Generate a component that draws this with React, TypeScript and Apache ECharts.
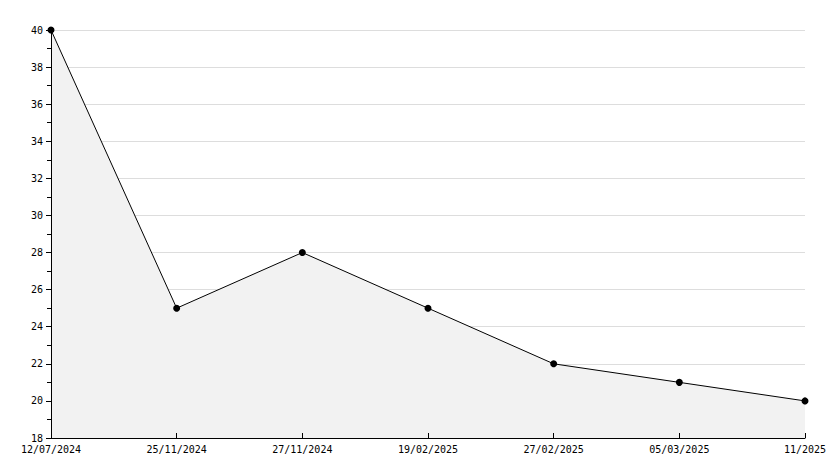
import React, { useEffect, useRef } from "react";
import * as echarts from "echarts";

const categories = ["12/07/2024", "25/11/2024", "27/11/2024", "19/02/2025", "27/02/2025", "05/03/2025", "11/2025"];
const values = [40, 25, 28, 25, 22, 21, 20];
const yMin = 18;
const yMax = 40;
const yInterval = 2;

export default function App() {
  const ref = useRef<HTMLDivElement>(null);
  useEffect(() => {
    document.body.style.margin = "0";
    const chart = echarts.init(ref.current!, null, { renderer: "svg" });
    const font = "DejaVu Sans Mono";
    chart.setOption({
      animation: false,
      backgroundColor: "#ffffff",
      grid: { left: 51, right: 29, top: 30, bottom: 30 },
      xAxis: {
        type: "category",
        data: categories,
        boundaryGap: false,
        z: 10,
        axisLine: { lineStyle: { color: "#000", width: 1 } },
        axisTick: { show: true, inside: true, length: 5, lineStyle: { color: "#000" } },
        axisLabel: { color: "#000", fontFamily: font, fontSize: 10, margin: 6, interval: 0 },
        splitLine: { show: false },
      },
      yAxis: [
        {
          type: "value",
          min: yMin,
          max: yMax,
          interval: yInterval,
          z: 0,
          axisLine: { show: false },
          axisTick: { show: false },
          axisLabel: { show: false },
          splitLine: { show: true, lineStyle: { color: "#dddddd", width: 1 } },
        },
        {
          type: "value",
          min: yMin,
          max: yMax,
          interval: yInterval,
          position: "left",
          z: 10,
          axisLine: { show: true, onZero: false, lineStyle: { color: "#000", width: 1 } },
          axisTick: { show: true, inside: false, length: 5, lineStyle: { color: "#000" } },
          minorTick: { show: true, splitNumber: 2, length: 4, lineStyle: { color: "#000" } },
          axisLabel: { color: "#000", fontFamily: font, fontSize: 10, margin: 8 },
          splitLine: { show: false },
        },
      ],
      series: [
        {
          type: "line",
          yAxisIndex: 0,
          data: values,
          symbol: "circle",
          symbolSize: 7,
          itemStyle: { color: "#000" },
          lineStyle: { color: "#000", width: 1 },
          areaStyle: { color: "#f2f2f2", opacity: 1, origin: "start" },
        },
      ],
    });
    return () => chart.dispose();
  }, []);
  return <div ref={ref} style={{ position: "absolute", left: 0, top: 0, width: 834, height: 468 }} />;
}
